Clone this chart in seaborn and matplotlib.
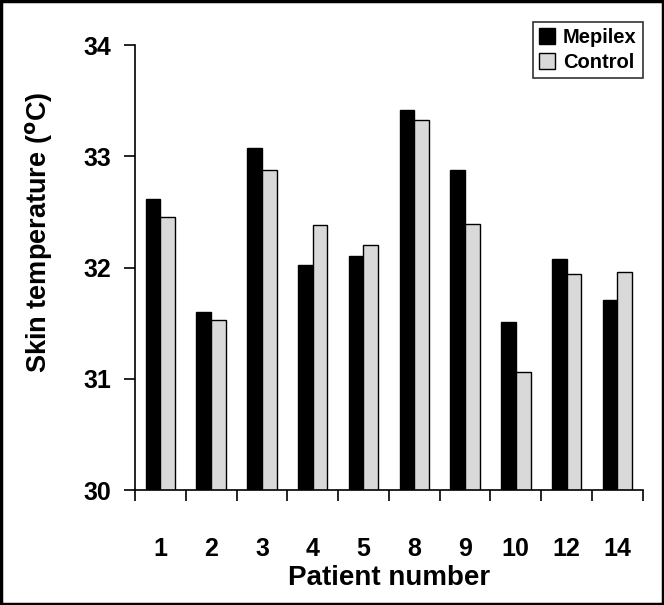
import matplotlib
matplotlib.use("Agg")
import matplotlib.pyplot as plt
import numpy as np
import pandas as pd
import seaborn as sns
from matplotlib.patches import Rectangle

patients = ["1", "2", "3", "4", "5", "8", "9", "10", "12", "14"]
mepilex = [32.62, 31.60, 33.07, 32.02, 32.10, 33.42, 32.88, 31.51, 32.08, 31.71]
control = [32.45, 31.53, 32.88, 32.38, 32.20, 33.33, 32.39, 31.06, 31.94, 31.96]
groups = ["Mepilex", "Control"]
colors = ["#000000", "#d9d9d9"]
yticks = [30, 31, 32, 33, 34]

df = pd.DataFrame({
    "patient": patients * 2,
    "temp": mepilex + control,
    "group": [groups[0]] * len(patients) + [groups[1]] * len(patients),
})

sns.set_style("ticks")
plt.rcParams["font.family"] = ["Liberation Sans", "DejaVu Sans"]
plt.rcParams["font.weight"] = "bold"
plt.rcParams["text.color"] = "black"
plt.rcParams["axes.labelcolor"] = "black"

fig = plt.figure(figsize=(6.64, 6.05), dpi=100)
ax = fig.add_axes([0.2033, 0.19, 0.7647, 0.7356])

sns.barplot(data=df, x="patient", y="temp", hue="group", order=patients,
            hue_order=groups, palette=colors, width=0.58, edgecolor="black",
            linewidth=1, ax=ax)

ax.set_ylim(30, 34)
ax.set_xlim(-0.5, len(patients) - 0.5)
ax.set_yticks(yticks)
ax.set_yticklabels([str(t) for t in yticks], fontsize=18, fontweight="bold")
ax.tick_params(axis="y", direction="out", length=8, width=1.2, pad=9, colors="black")

# category boundaries as major ticks, labels on minor ticks at centres
ax.set_xticks(np.arange(len(patients) + 1) - 0.5)
ax.set_xticklabels([])
ax.set_xticks(np.arange(len(patients)), minor=True)
ax.set_xticklabels(patients, minor=True, fontsize=18, fontweight="bold")
ax.tick_params(axis="x", which="major", direction="out", length=8, width=1.2, colors="black")
ax.tick_params(axis="x", which="minor", length=0, pad=34, colors="black")

for s in ["top", "right"]:
    ax.spines[s].set_visible(False)
for s in ["left", "bottom"]:
    ax.spines[s].set_linewidth(1.2)
    ax.spines[s].set_color("black")

ax.set_xlabel("Patient number", fontsize=20, fontweight="bold", labelpad=3)
ax.set_ylabel("Skin temperature ($\\mathbf{^{o}}$C)", fontsize=19.5, fontweight="bold")
ax.yaxis.set_label_coords(-0.157, 0.58)

leg = ax.legend(loc="upper right", bbox_to_anchor=(0.968, 0.9636), bbox_transform=fig.transFigure,
                borderaxespad=0, fancybox=False, frameon=True, edgecolor="black",
                prop={"size": 14.5, "weight": "bold"}, handlelength=0.8, handleheight=0.8,
                handletextpad=0.4, borderpad=0.3, labelspacing=0.3)
leg.get_frame().set_linewidth(1.2)
for h in leg.legend_handles:
    h.set_edgecolor("black")
    h.set_linewidth(1)

fig.patches.append(Rectangle((0.002, 0.002), 0.996, 0.996, transform=fig.transFigure,
                             fill=False, edgecolor="black", linewidth=2.5))

fig.savefig("out.png", dpi=100)
